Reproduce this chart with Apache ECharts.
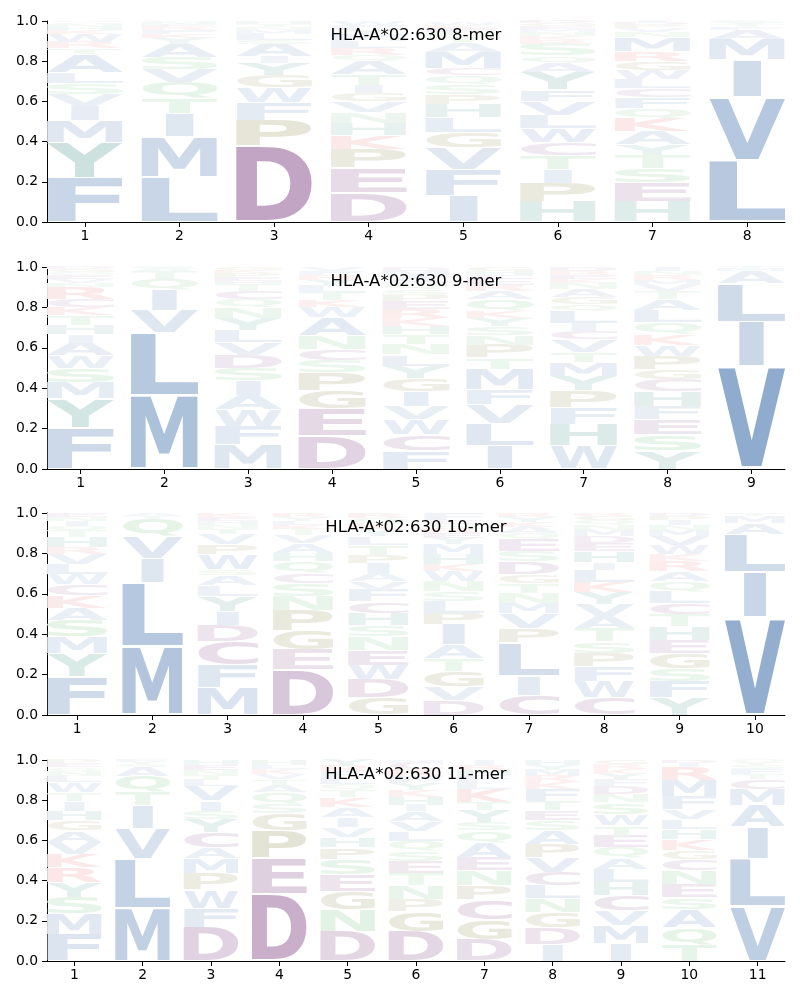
<!DOCTYPE html>
<html><head><meta charset="utf-8">
<script src="https://cdn.jsdelivr.net/npm/echarts@6/dist/echarts.min.js"></script>
<style>html,body{margin:0;padding:0;background:#fff}#c{width:800px;height:1000px}</style>
</head><body><div id="c"></div>
<script>
// ---------- DATA (letters listed bottom -> top, frequencies per position) ----------
const titles = ["HLA-A*02:630 8-mer", "HLA-A*02:630 9-mer", "HLA-A*02:630 10-mer", "HLA-A*02:630 11-mer"];

const letters8 = ["FYMIVSLATRWKHNQG", "LMITQVSAYKFRENW", "DPFWGYIASLMNTH", "DEPKHNVGITAQRLMYFW",
  "IFVGLHPSQCMATNEKW", "HPITCWLVFYAQSRKNMEGD", "HESTYAKQFCLWGRMNVPDI", "LVIMAFTYS"];
const freqs8 = [
  [.222,.174,.111,.071,.058,.054,.055,.09,.03,.03,.04,.02,.015,.015,.01,.005],
  [.225,.20,.115,.075,.08,.065,.06,.065,.03,.02,.02,.015,.01,.015,.005],
  [.38,.127,.087,.075,.06,.063,.03,.065,.02,.03,.02,.015,.015,.01],
  [.144,.124,.095,.069,.058,.055,.055,.04,.04,.055,.065,.03,.035,.035,.03,.03,.02,.02],
  [.13,.13,.11,.075,.075,.065,.05,.05,.045,.035,.08,.05,.03,.02,.02,.015,.015],
  [.10,.094,.069,.067,.065,.07,.065,.07,.057,.09,.045,.035,.06,.02,.02,.02,.015,.015,.015,.01],
  [.10,.094,.071,.065,.055,.065,.065,.05,.055,.045,.045,.045,.045,.05,.07,.025,.02,.015,.01,.01],
  [.308,.316,.186,.099,.046,.015,.01,.01,.01]
];

const letters9 = ["FYMSWAIHTKCRNVEQGD", "MLVIQTAS", "MFWAISDVLYNQCTHEPKG", "DEGPSCNAWKTLYRFV",
  "FCWVIGYLNTHKREPSQAMD", "ILVFMTPNSYKQARECHG", "WHFPYMTVCILQGANKERD", "YSEFHCGPWKQLATVMRNI", "VILAMT"];
const freqs9 = [
  [.203,.144,.083,.07,.06,.065,.04,.045,.05,.04,.04,.06,.02,.02,.02,.015,.015,.01],
  [.364,.309,.112,.099,.056,.04,.01,.01],
  [.119,.093,.081,.074,.071,.062,.065,.06,.06,.06,.055,.04,.04,.03,.02,.02,.02,.015,.015],
  [.165,.133,.09,.091,.06,.055,.065,.09,.05,.035,.04,.03,.03,.025,.02,.02],
  [.09,.08,.075,.065,.075,.065,.06,.057,.05,.05,.04,.04,.045,.04,.03,.03,.03,.03,.03,.018],
  [.116,.11,.096,.074,.10,.054,.065,.045,.045,.04,.035,.06,.04,.03,.03,.02,.02,.02],
  [.115,.108,.082,.083,.072,.07,.05,.06,.04,.04,.06,.035,.035,.04,.03,.02,.02,.02,.02],
  [.09,.08,.075,.065,.075,.06,.05,.065,.055,.05,.06,.06,.055,.04,.03,.025,.025,.02,.02],
  [.507,.22,.19,.063,.01,.01]
];

const letters10 = ["FYMSAKCWLVRHTQINE", "MLIVQTA", "MFCDIYLASWPVTNHEK", "DEGPNSCQHAVTKLYR",
  "GDWENSHCFVAIPTLYKQR", "DVGTAIPLSNWKHMYERQCF", "CILPVMNTGDSEQAKYR", "CWFPSTAVYKLIHEDMNQGR",
  "YFSGEHTCLQARKWVMNIPD", "VILAMTF"];
const freqs10 = [
  [.188,.116,.082,.084,.06,.06,.055,.05,.05,.05,.035,.05,.03,.025,.025,.02,.02],
  [.337,.316,.119,.111,.087,.015,.015],
  [.136,.112,.116,.081,.07,.075,.05,.05,.03,.075,.05,.05,.025,.02,.02,.02,.02],
  [.223,.098,.096,.099,.071,.066,.05,.057,.04,.05,.04,.03,.02,.02,.02,.02],
  [.086,.091,.071,.074,.066,.058,.058,.058,.058,.04,.042,.05,.041,.05,.04,.03,.03,.03,.027],
  [.074,.066,.078,.06,.069,.10,.058,.058,.05,.05,.05,.033,.05,.05,.03,.025,.025,.02,.02,.034],
  [.099,.096,.165,.07,.074,.05,.05,.05,.041,.063,.053,.058,.03,.03,.025,.025,.02],
  [.086,.083,.071,.066,.058,.066,.06,.059,.06,.05,.06,.035,.055,.04,.035,.03,.025,.025,.02,.016],
  [.086,.079,.066,.075,.066,.066,.058,.058,.058,.05,.05,.05,.033,.045,.045,.03,.025,.025,.02,.015],
  [.483,.223,.187,.057,.033,.01,.007]
];

const letters11 = ["FMSYRKVAGHITWLNQEP", "MLVITQASYF", "DFWPMACYSIVLTNEH", "DEPGSQATVKLH",
  "DNGESPHVIAKTQLFRY", "DGPNTESQLVAIHKYFRCM", "DGCPNEAQSYTKLFHRI", "IDGNLCVPASETFKRMYH",
  "IMVCHLAQETWSNDFYKRG", "TQASENCGKHLVFMRID", "VLIAMCTFSYQ"];
const freqs11 = [
  [.134,.104,.081,.073,.074,.066,.058,.058,.05,.049,.05,.041,.05,.03,.025,.02,.02,.017],
  [.263,.248,.149,.115,.065,.08,.045,.015,.01,.01],
  [.167,.096,.091,.082,.073,.056,.075,.066,.041,.05,.074,.03,.025,.025,.025,.024],
  [.332,.179,.135,.088,.046,.058,.035,.03,.025,.025,.02,.027],
  [.147,.108,.09,.083,.079,.058,.05,.05,.049,.05,.049,.035,.03,.03,.03,.03,.032],
  [.147,.10,.06,.07,.06,.06,.05,.05,.05,.05,.05,.03,.04,.035,.035,.035,.03,.035,.013],
  [.106,.099,.099,.071,.075,.066,.072,.06,.042,.06,.04,.065,.035,.03,.03,.025,.025],
  [.083,.081,.076,.07,.066,.067,.071,.066,.068,.05,.05,.049,.058,.035,.03,.03,.025,.025],
  [.086,.091,.074,.075,.066,.066,.053,.054,.058,.05,.057,.058,.04,.042,.03,.03,.025,.025,.02],
  [.081,.086,.091,.059,.066,.067,.057,.043,.055,.05,.05,.05,.065,.08,.065,.02,.015],
  [.271,.24,.157,.107,.08,.049,.025,.025,.02,.013,.013]
];

// ---------- STYLE ----------
const FONT_FAMILY = '"DejaVu Sans", sans-serif';
const GLYPH_FONT = 'bold 100px "DejaVu Sans"';
const groupColor = {
  A:[30,85,155], V:[30,85,155], L:[30,85,155], I:[30,85,155], M:[30,85,155], F:[30,85,155], W:[30,85,155],
  Y:[0,110,90], H:[0,110,90],
  D:[95,20,100], E:[95,20,100], C:[95,20,100],
  P:[90,85,0], G:[90,85,0],
  S:[40,160,60], T:[40,160,60], N:[40,160,60], Q:[40,160,60],
  K:[215,30,30], R:[215,30,30]
};
function letterColor(ch, f) {
  const a = Math.min(1, 0.04 + 0.9 * f);
  const b = groupColor[ch] || [30,85,155];
  const c = b.map(v => Math.round(255 - a * (255 - v)));
  return 'rgb(' + c.join(',') + ')';
}

// glyph ink metrics (so each letter fills its box like a sequence logo)
const mctx = document.createElement('canvas').getContext('2d');
mctx.font = GLYPH_FONT; mctx.textBaseline = 'middle'; mctx.textAlign = 'left';
const metrics = {};
function getMetric(ch) {
  if (!metrics[ch]) {
    const m = mctx.measureText(ch);
    metrics[ch] = { l: m.actualBoundingBoxLeft, a: m.actualBoundingBoxAscent,
      w: m.actualBoundingBoxLeft + m.actualBoundingBoxRight,
      h: m.actualBoundingBoxAscent + m.actualBoundingBoxDescent };
  }
  return metrics[ch];
}
const REF_W = getMetric('E').w; // narrow letters are not stretched wider than 'E' would be

const panels = [[letters8, freqs8], [letters9, freqs9], [letters10, freqs10], [letters11, freqs11]];
const gridTops = [21, 267, 513, 760];
const gridHeights = [201, 202, 202, 201];
const LEFT = 47, RIGHT = 15, WIDTH = 800 - LEFT - RIGHT;
const HALFW = 0.4, VPAD = 0.05;

const option = { animation: false, grid: [], xAxis: [], yAxis: [], series: [], graphic: [] };

panels.forEach(([letters, freqs], pi) => {
  const n = letters.length;
  const ticks = []; for (let i = 1; i <= n; i++) ticks.push(i);
  option.grid.push({ left: LEFT, right: RIGHT, top: gridTops[pi], height: gridHeights[pi] });
  option.xAxis.push({
    gridIndex: pi, type: 'value', min: 0.6, max: n + 0.4,
    axisLine: { show: true, onZero: false, lineStyle: { color: '#000', width: 1 } },
    axisTick: { show: true, customValues: ticks, length: 5, lineStyle: { color: '#000' } },
    axisLabel: { customValues: ticks, color: '#000', fontSize: 13.9, margin: 7, fontFamily: FONT_FAMILY },
    splitLine: { show: false }
  });
  option.yAxis.push({
    gridIndex: pi, type: 'value', min: 0, max: 1, interval: 0.2,
    axisLine: { show: true, onZero: false, lineStyle: { color: '#000', width: 1 } },
    axisTick: { show: true, length: 5, lineStyle: { color: '#000' } },
    axisLabel: { color: '#000', fontSize: 13.9, margin: 9, fontFamily: FONT_FAMILY,
      formatter: v => v.toFixed(1) },
    splitLine: { show: false }
  });
  const items = [];
  letters.forEach((str, ci) => {
    let y = 0;
    str.split('').forEach((ch, k) => {
      const f = freqs[ci][k];
      items.push({ x: ci + 1, y0: y, y1: y + f, ch: ch, color: letterColor(ch, f) });
      y += f;
    });
  });
  option.series.push({
    type: 'custom', xAxisIndex: pi, yAxisIndex: pi, silent: true, clip: false,
    data: items.map(d => [d.x, d.y0, d.y1]),
    renderItem: function (params, api) {
      const it = items[params.dataIndex];
      const h = it.y1 - it.y0, pad = VPAD * h / 2;
      const p0 = api.coord([it.x - HALFW, it.y0 + pad]);
      const p1 = api.coord([it.x + HALFW, it.y1 - pad]);
      const m = getMetric(it.ch);
      const boxW = p1[0] - p0[0], hh = p0[1] - p1[1];
      if (hh <= 0.05) return null;
      const sx = Math.min(boxW / m.w, boxW / REF_W);
      const shift = (boxW - m.w * sx) / 2;
      return {
        type: 'text', x: p0[0] + shift, y: p1[1], scaleX: sx, scaleY: hh / m.h, silent: true,
        style: { text: it.ch, x: m.l, y: m.a, font: GLYPH_FONT, fill: it.color,
          align: 'left', verticalAlign: 'middle', textAlign: 'left', textVerticalAlign: 'middle' }
      };
    }
  });
  option.graphic.push({
    type: 'text', x: LEFT + WIDTH / 2, y: gridTops[pi] + 15, silent: true, z: 100,
    style: { text: titles[pi], font: '16.5px ' + FONT_FAMILY, fill: '#000',
      align: 'center', verticalAlign: 'middle', textAlign: 'center', textVerticalAlign: 'middle' }
  });
});

const chart = echarts.init(document.getElementById('c'), null, { renderer: 'canvas' });
chart.setOption(option);
</script>
</body></html>
